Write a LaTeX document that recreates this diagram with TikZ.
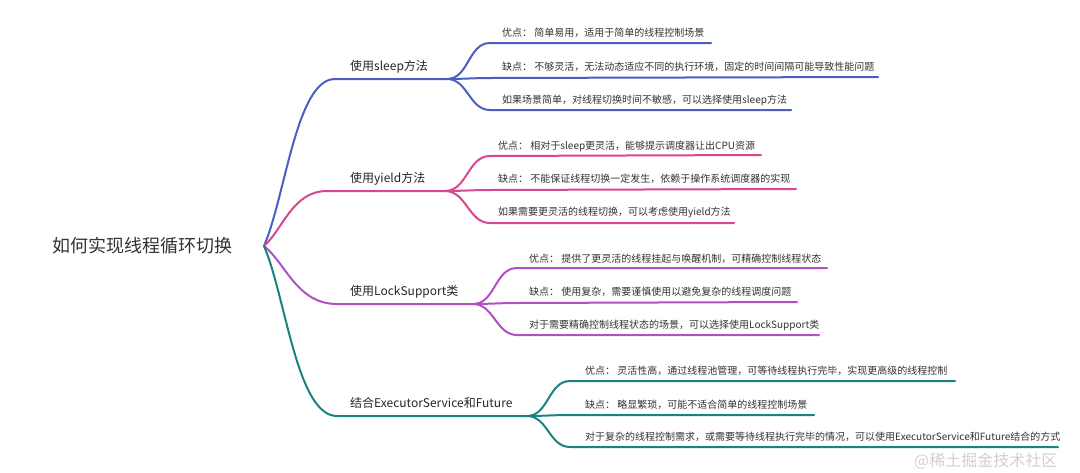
\documentclass[tikz,border=0pt]{standalone}
\usepackage{fontspec}
\setmainfont{Noto Sans CJK SC}
\definecolor{cblue}{HTML}{4A5FC1}
\definecolor{cpink}{HTML}{D9488F}
\definecolor{cpurple}{HTML}{B24FC6}
\definecolor{cteal}{HTML}{1B8280}
\definecolor{ctext}{HTML}{333333}
\tikzset{
  rootlabel/.style={anchor=west,inner sep=0pt,font=\fontsize{18}{18}\selectfont,text=ctext},
  branchlabel/.style={anchor=west,inner sep=0pt,font=\fontsize{12}{13}\selectfont,text=black!85},
  leaflabel/.style={anchor=west,inner sep=0pt,font=\fontsize{10}{10}\selectfont,text=ctext},
  wire/.style={line width=2pt,line cap=round},
  sbend/.style={out=0,in=180}
}
\begin{document}
\begin{tikzpicture}[x=1pt,y=-1pt]
\useasboundingbox[fill=white] (0,0) rectangle (1080,472);
% root
\node[rootlabel] (root) at (52,246) {如何实现线程循环切换};
\coordinate (r) at (264,246);

% ---------- branch 1: sleep ----------
\coordinate (b1s) at (335,79);
\coordinate (b1e) at (447,79);
\node[branchlabel] (b1) at (350,67) {使用sleep方法};
\coordinate (b1c1s) at (490,43);  \coordinate (b1c1e) at (711,43);
\coordinate (b1c2s) at (490,78);  \coordinate (b1c2e) at (878,77);
\coordinate (b1c3s) at (490,110); \coordinate (b1c3e) at (791,110);
\node[leaflabel] (b1l1) at (502,33) {优点： 简单易用，适用于简单的线程控制场景};
\node[leaflabel] (b1l2) at (502,67) {缺点： 不够灵活，无法动态适应不同的执行环境，固定的时间间隔可能导致性能问题};
\node[leaflabel] (b1l3) at (502,100) {如果场景简单，对线程切换时间不敏感，可以选择使用sleep方法};
\draw[wire,cblue] (r) .. controls (285.6,195.9) and (296.4,79) .. (b1s) -- (b1e);
\draw[wire,cblue] (b1e) to[sbend] (b1c1s) -- (b1c1e);
\draw[wire,cblue] (b1e) to[sbend] (b1c2s) -- (b1c2e);
\draw[wire,cblue] (b1e) to[sbend] (b1c3s) -- (b1c3e);

% ---------- branch 2: yield ----------
\coordinate (b2s) at (327,191);
\coordinate (b2e) at (445,191);
\node[branchlabel] (b2) at (350,179) {使用yield方法};
\coordinate (b2c1s) at (490,156); \coordinate (b2c1e) at (761,155);
\coordinate (b2c2s) at (490,190); \coordinate (b2c2e) at (796,189);
\coordinate (b2c3s) at (490,223); \coordinate (b2c3e) at (734,223);
\node[leaflabel] (b2l1) at (498,146) {优点： 相对于sleep更灵活，能够提示调度器让出CPU资源};
\node[leaflabel] (b2l2) at (498,179) {缺点： 不能保证线程切换一定发生，依赖于操作系统调度器的实现};
\node[leaflabel] (b2l3) at (498,212) {如果需要更灵活的线程切换，可以考虑使用yield方法};
\draw[wire,cpink] (r) .. controls (282.9,229.5) and (292.4,191) .. (b2s) -- (b2e);
\draw[wire,cpink] (b2e) to[sbend] (b2c1s) -- (b2c1e);
\draw[wire,cpink] (b2e) to[sbend] (b2c2s) -- (b2c2e);
\draw[wire,cpink] (b2e) to[sbend] (b2c3s) -- (b2c3e);

% ---------- branch 3: LockSupport ----------
\coordinate (b3s) at (337,304);
\coordinate (b3e) at (473,304);
\node[branchlabel] (b3) at (350,292) {使用LockSupport类};
\coordinate (b3c1s) at (517,268); \coordinate (b3c1e) at (827,268);
\coordinate (b3c2s) at (517,303); \coordinate (b3c2e) at (797,302);
\coordinate (b3c3s) at (517,335); \coordinate (b3c3e) at (819,335);
\node[leaflabel] (b3l1) at (529,259) {优点： 提供了更灵活的线程挂起与唤醒机制，可精确控制线程状态};
\node[leaflabel] (b3l2) at (529,292) {缺点： 使用复杂，需要谨慎使用以避免复杂的线程调度问题};
\node[leaflabel] (b3l3) at (529,325) {对于需要精确控制线程状态的场景，可以选择使用LockSupport类};
\draw[wire,cpurple] (r) .. controls (285.9,263.4) and (296.9,304) .. (b3s) -- (b3e);
\draw[wire,cpurple] (b3e) to[sbend] (b3c1s) -- (b3c1e);
\draw[wire,cpurple] (b3e) to[sbend] (b3c2s) -- (b3c2e);
\draw[wire,cpurple] (b3e) to[sbend] (b3c3s) -- (b3c3e);

% ---------- branch 4: ExecutorService ----------
\coordinate (b4s) at (337,416);
\coordinate (b4e) at (527,416);
\node[branchlabel] (b4) at (350,403) {结合ExecutorService和Future};
\coordinate (b4c1s) at (570,381); \coordinate (b4c1e) at (955,381);
\coordinate (b4c2s) at (570,415); \coordinate (b4c2e) at (814,415);
\coordinate (b4c3s) at (570,447); \coordinate (b4c3e) at (1058,447);
\node[leaflabel] (b4l1) at (585,371) {优点： 灵活性高，通过线程池管理，可等待线程执行完毕，实现更高级的线程控制};
\node[leaflabel] (b4l2) at (585,405) {缺点： 略显繁琐，可能不适合简单的线程控制场景};
\node[leaflabel] (b4l3) at (585,437) {对于复杂的线程控制需求，或需要等待线程执行完毕的情况，可以使用ExecutorService和Future结合的方式};
\draw[wire,cteal] (r) .. controls (285.9,297) and (296.9,416) .. (b4s) -- (b4e);
\draw[wire,cteal] (b4e) to[sbend] (b4c1s) -- (b4c1e);
\draw[wire,cteal] (b4e) to[sbend] (b4c2s) -- (b4c2e);
\draw[wire,cteal] (b4e) to[sbend] (b4c3s) -- (b4c3e);

% watermark
\node[anchor=west,inner sep=0pt,font=\fontsize{16}{16}\selectfont,text=black!18] (wm) at (914,461) {@稀土掘金技术社区};
\end{tikzpicture}
\end{document}
